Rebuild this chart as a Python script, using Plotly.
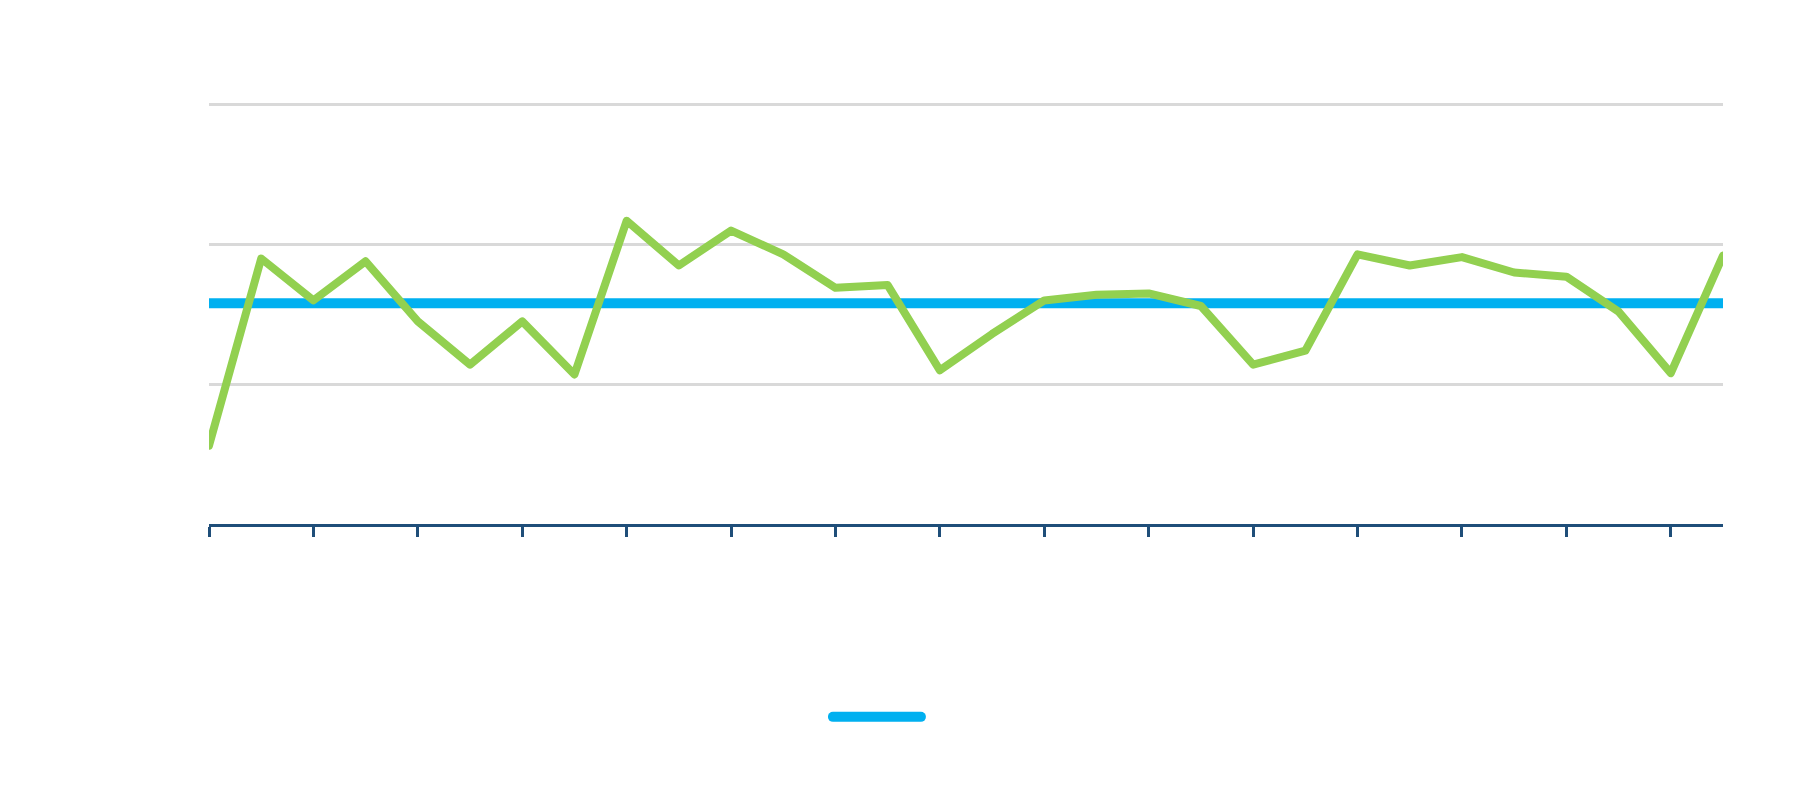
import plotly.graph_objects as go

# Data (y grid step = 50)
periods = list(range(30))
actual_values = [28, 95, 80, 94, 72.5, 57, 72.5, 53.5, 108.5, 92.5,
                 105, 96.5, 84.5, 85.5, 55, 68, 80, 82, 82.5, 78,
                 57, 62, 96.5, 92.5, 95.5, 90, 88.5, 76, 54, 96]
target_value = 79
target_values = [target_value] * len(periods)
tick_positions = periods[::2]

BLUE = "#00B0F0"
GREEN = "#92D050"
AXIS = "#1F4E79"
GRID = "#D9D9D9"

fig = go.Figure()
fig.add_trace(go.Scatter(
    x=periods, y=target_values, mode="lines", name="",
    line=dict(color=BLUE, width=10), showlegend=True, hoverinfo="skip"))
fig.add_trace(go.Scatter(
    x=periods, y=actual_values, mode="lines", name="",
    line=dict(color=GREEN, width=8), showlegend=False))

fig.update_layout(
    width=1798, height=791,
    margin=dict(l=201, r=83, t=94, b=275),
    paper_bgcolor="white", plot_bgcolor="white",
    font=dict(family="Open Sans", color="#333333"),
    showlegend=True,
    legend=dict(orientation="h", x=0.4088, y=-0.457, xanchor="left", yanchor="middle",
                itemwidth=100, bgcolor="rgba(0,0,0,0)", font=dict(size=1)),
)
fig.update_xaxes(range=[0, 29], tickmode="array", tickvals=tick_positions,
                 showticklabels=False, showgrid=False, zeroline=False,
                 showline=True, linecolor=AXIS, linewidth=3,
                 ticks="outside", ticklen=10, tickwidth=3, tickcolor=AXIS)
fig.update_yaxes(range=[0, 151], tickmode="linear", tick0=0, dtick=50,
                 showticklabels=False, showgrid=True, gridcolor=GRID, gridwidth=3,
                 zeroline=False, showline=False)

post = """
var gd = document.getElementById('{plot_id}');
gd.querySelectorAll('.legend .legendlines path').forEach(function(p){
  p.setAttribute('d', 'M5,0h88');
  p.style.strokeLinecap = 'round';
});
gd.querySelectorAll('.scatterlayer .js-line').forEach(function(p){
  p.style.strokeLinejoin = 'round';
  p.style.strokeLinecap = 'round';
});
"""
fig.write_html("out.html", post_script=post)
